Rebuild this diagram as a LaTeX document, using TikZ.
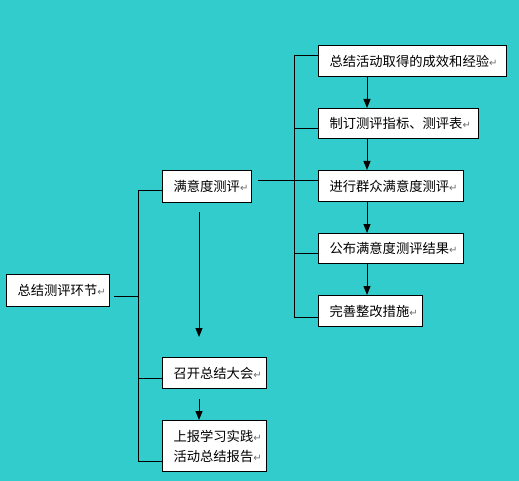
\documentclass[tikz,border=0pt]{standalone}
\usepackage{fontspec}
\setmainfont{Noto Sans CJK SC}
\newfontfamily\retfont{DejaVu Sans}
\usepackage{xcolor}
\usetikzlibrary{arrows.meta}
\definecolor{bgteal}{RGB}{51,204,204}
\definecolor{retgray}{RGB}{110,110,110}
\newcommand{\retmark}{{\retfont\fontsize{10pt}{10pt}\selectfont\textcolor{retgray}{↵}}}
\newcommand{\ind}{\hspace*{11pt}}

\begin{document}
\begin{tikzpicture}[x=1pt,y=-1pt,
  box/.style={draw=black, line width=1pt, fill=white, anchor=north west,
    inner xsep=0pt, inner ysep=0pt, align=left,
    font=\fontsize{13.3pt}{20pt}\selectfont},
  link/.style={line width=1pt},
  arr/.style={line width=1pt, -{Triangle[width=7pt,length=9pt]}}]
\fill[bgteal] (0,0) rectangle (519,481);
\useasboundingbox (0,0) rectangle (519,481);
% left column
\node[box, text width=103pt, minimum height=32pt] (sum) at (6,274) {\ind 总结测评环节\retmark};
\node[box, text width=89pt, minimum height=32pt] (sat) at (162,170) {\ind 满意度测评\retmark};
\node[box, text width=104pt, minimum height=31pt] (meet) at (162,357) {\ind 召开总结大会\retmark};
\node[box, text width=104pt, minimum height=51pt] (report) at (162,420) {\ind 上报学习实践\retmark\\\ind 活动总结报告\retmark};
% right column
\node[box, text width=188pt, minimum height=31pt] (r1) at (318,45) {\ind 总结活动取得的成效和经验\retmark};
\node[box, text width=160pt, minimum height=30pt] (r2) at (318,108) {\ind 制订测评指标、测评表\retmark};
\node[box, text width=145pt, minimum height=31pt] (r3) at (318,170) {\ind 进行群众满意度测评\retmark};
\node[box, text width=145pt, minimum height=30pt] (r4) at (318,233) {\ind 公布满意度测评结果\retmark};
\node[box, text width=104pt, minimum height=31pt] (r5) at (318,295) {\ind 完善整改措施\retmark};
% bus points
\coordinate (busTop) at (138,191);
\coordinate (busBot) at (138,461);
\coordinate (sumR) at (114,296);
\coordinate (jm) at (138,378);
\coordinate (satR) at (258,181);
\coordinate (j1) at (294,56);
\coordinate (j2) at (294,129);
\coordinate (j4) at (294,253);
\coordinate (j5) at (294,317);
\coordinate (ax) at (367,0);
\coordinate (dnA) at (199,212);
\coordinate (dnB) at (199,337);
\coordinate (dnC) at (199,399);
% left bus
\draw[link] (busTop) -- (busBot);
\draw[link] (busTop) -- (busTop -| sat.west);
\draw[link] (sumR) -- (sumR -| busTop);
\draw[link] (jm) -- (jm -| meet.west);
\draw[link] (busBot) -- (busBot -| report.west);
% right bus
\draw[link] (j1) -- (j5);
\draw[link] (j1) -- (j1 -| r1.west);
\draw[link] (j2) -- (j2 -| r2.west);
\draw[link] (satR) -- (satR -| r3.west);
\draw[link] (j4) -- (j4 -| r4.west);
\draw[link] (j5) -- (j5 -| r5.west);
% arrows
\draw[arr] (r1.south -| ax) -- (r2.north -| ax);
\draw[arr] (r2.south -| ax) -- (r3.north -| ax);
\draw[arr] (r3.south -| ax) -- (r4.north -| ax);
\draw[arr] (r4.south -| ax) -- (r5.north -| ax);
\draw[arr] (dnA) -- (dnB);
\draw[arr] (dnC) -- (dnC |- report.north);
\end{tikzpicture}
\end{document}
